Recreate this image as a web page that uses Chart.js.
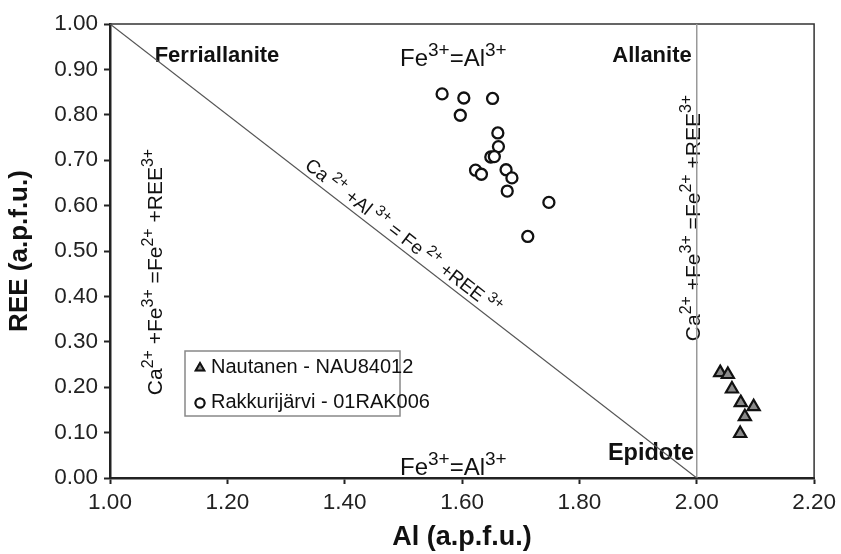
<!DOCTYPE html>
<html>
<head>
<meta charset="utf-8">
<title>Allanite - epidote classification</title>
<script src="https://cdn.jsdelivr.net/npm/chart.js@4.4.0/dist/chart.umd.min.js"></script>
<style>
  html, body { margin: 0; padding: 0; background: #fff; }
  #wrap { width: 841px; height: 554px; }
</style>
</head>
<body>
<div id="wrap"><canvas id="chart"></canvas></div>
<script>
// data (Al and REE in a.p.f.u.)
const nautanenAl  = [2.040, 2.053, 2.060, 2.075, 2.097, 2.082, 2.074];
const nautanenREE = [0.232, 0.228, 0.196, 0.166, 0.157, 0.135, 0.098];

const rakkuAl  = [1.566, 1.603, 1.652, 1.597, 1.661, 1.662, 1.649, 1.655, 1.623, 1.633, 1.675, 1.685, 1.677, 1.748, 1.712];
const rakkuREE = [0.846, 0.837, 0.836, 0.799, 0.760, 0.730, 0.707, 0.708, 0.678, 0.669, 0.679, 0.661, 0.632, 0.607, 0.532];

const seriesNames = ['Nautanen - NAU84012', 'Rakkurijärvi - 01RAK006'];

// boundary lines of the diagram
const diagonalAl  = [1.0, 2.0];
const diagonalREE = [1.0, 0.0];
const verticalAl  = [2.0, 2.0];
const verticalREE = [0.0, 1.0];

const xTickValues = [1.00, 1.20, 1.40, 1.60, 1.80, 2.00, 2.20];
const yTickValues = [0.00, 0.10, 0.20, 0.30, 0.40, 0.50, 0.60, 0.70, 0.80, 0.90, 1.00];

const FONT = '"Liberation Sans", Arial, sans-serif';

function toPoints(xs, ys) {
    return xs.map((x, i) => ({ x: x, y: ys[i] }));
}

// draws text with superscripts, parts = [[text, isSup], ...]
function drawRich(ctx, parts, x, y, angle, size, supSize, align) {
    ctx.save();
    ctx.translate(x, y);
    ctx.rotate(angle);
    ctx.textBaseline = 'alphabetic';
    ctx.textAlign = 'left';
    let total = 0;
    const widths = parts.map(p => {
        ctx.font = (p[1] ? supSize : size) + 'px ' + FONT;
        const w = ctx.measureText(p[0]).width;
        total += w;
        return w;
    });
    let cx = align === 'center' ? -total / 2 : 0;
    parts.forEach((p, i) => {
        ctx.font = (p[1] ? supSize : size) + 'px ' + FONT;
        ctx.fillText(p[0], cx, p[1] ? -size * 0.42 : 0);
        cx += widths[i];
    });
    ctx.restore();
}

const feAl = [['Fe', false], ['3+', true], ['=Al', false], ['3+', true]];
const vertEq = [['Ca', false], ['2+', true], [' +Fe', false], ['3+', true], [' =Fe', false], ['2+', true], [' +REE', false], ['3+', true]];
const diagEq = [['Ca', false], [' 2+', true], [' +Al', false], [' 3+', true], [' = Fe', false], [' 2+', true], [' +REE', false], [' 3+', true]];

const annotations = {
    id: 'annotations',
    beforeDatasetsDraw(chart) {
        const ctx = chart.ctx;
        const xs = chart.scales.x, ys = chart.scales.y;
        const area = chart.chartArea;

        // top and right frame
        ctx.save();
        ctx.strokeStyle = '#333';
        ctx.lineWidth = 1.5;
        ctx.beginPath();
        ctx.moveTo(area.left, area.top);
        ctx.lineTo(area.right, area.top);
        ctx.lineTo(area.right, area.bottom);
        ctx.stroke();
        ctx.restore();

        ctx.save();
        ctx.fillStyle = '#111';
        ctx.textAlign = 'center';
        ctx.textBaseline = 'middle';
        ctx.font = 'bold 22px ' + FONT;
        ctx.fillText('Ferriallanite', 217, 56);
        ctx.fillText('Allanite', 652, 56);
        ctx.font = 'bold 23.5px ' + FONT;
        ctx.fillText('Epidote', 651, 454);
        ctx.restore();

        ctx.fillStyle = '#111';
        drawRich(ctx, feAl, 400, 66, 0, 24, 19, 'left');
        drawRich(ctx, feAl, 400, 475, 0, 24, 19, 'left');
        drawRich(ctx, vertEq, 162, 272, -Math.PI / 2, 21, 16, 'center');
        drawRich(ctx, vertEq, 700, 218, -Math.PI / 2, 21, 16, 'center');

        // text along the diagonal boundary
        const x0 = xs.getPixelForValue(1), y0 = ys.getPixelForValue(1);
        const x1 = xs.getPixelForValue(2), y1 = ys.getPixelForValue(0);
        const ang = Math.atan2(y1 - y0, x1 - x0);
        const t = 0.325;
        const px = x0 + (x1 - x0) * t + Math.sin(ang) * 5;
        const py = y0 + (y1 - y0) * t - Math.cos(ang) * 5;
        drawRich(ctx, diagEq, px, py, ang, 19, 15, 'left');
    },
    afterDraw(chart) {
        const ctx = chart.ctx;
        const ds = chart.data.datasets;
        // legend box
        const bx = 185, by = 351, bw = 215, bh = 65;
        ctx.save();
        ctx.fillStyle = '#fff';
        ctx.fillRect(bx, by, bw, bh);
        ctx.strokeStyle = '#888';
        ctx.lineWidth = 1.5;
        ctx.strokeRect(bx, by, bw, bh);
        ctx.font = '20px ' + FONT;
        ctx.textBaseline = 'middle';
        ctx.fillStyle = '#111';
        [0, 1].forEach(i => {
            const rowY = by + 16 + i * 35;
            Chart.helpers.drawPoint(ctx, {
                pointStyle: ds[i].pointStyle,
                radius: i === 0 ? 5 : 4.5,
                borderWidth: 2
            }, 200, rowY + 1);
            ctx.fillStyle = ds[i].backgroundColor;
            ctx.strokeStyle = '#111';
            ctx.lineWidth = 2;
            ctx.fill();
            ctx.stroke();
            ctx.fillStyle = '#111';
            ctx.fillText(ds[i].label, 211, rowY);
        });
        ctx.restore();
    }
};

new Chart(document.getElementById('chart'), {
    type: 'scatter',
    data: {
        datasets: [
            {
                label: seriesNames[0],
                data: toPoints(nautanenAl, nautanenREE),
                pointStyle: 'triangle',
                pointRadius: 7,
                pointBackgroundColor: '#8a8a8a',
                backgroundColor: '#8a8a8a',
                pointBorderColor: '#111',
                pointBorderWidth: 2.2
            },
            {
                label: seriesNames[1],
                data: toPoints(rakkuAl, rakkuREE),
                pointStyle: 'circle',
                pointRadius: 5.5,
                pointBackgroundColor: '#fff',
                backgroundColor: '#fff',
                pointBorderColor: '#111',
                pointBorderWidth: 2.3
            },
            {
                type: 'line',
                label: 'diagonal',
                data: toPoints(diagonalAl, diagonalREE),
                borderColor: '#555',
                borderWidth: 1.2,
                pointRadius: 0,
                fill: false
            },
            {
                type: 'line',
                label: 'vertical',
                data: toPoints(verticalAl, verticalREE),
                borderColor: '#999',
                borderWidth: 1.5,
                pointRadius: 0,
                fill: false
            }
        ]
    },
    options: {
        responsive: true,
        maintainAspectRatio: false,
        animation: false,
        layout: { padding: { top: 24, right: 22, left: 0, bottom: 0 } },
        plugins: {
            legend: { display: false },
            tooltip: { enabled: false }
        },
        scales: {
            x: {
                type: 'linear',
                min: 1.0,
                max: 2.2,
                afterBuildTicks: s => { s.ticks = xTickValues.map(v => ({ value: v })); },
                afterFit: s => { s.height = 76; },
                ticks: {
                    font: { family: FONT, size: 22.5 },
                    color: '#222',
                    padding: 5,
                    maxRotation: 0,
                    callback: v => v.toFixed(2)
                },
                grid: { drawOnChartArea: false, tickLength: 6, tickColor: '#222', tickWidth: 2 },
                border: { color: '#222', width: 2.5 },
                title: {
                    display: true,
                    text: 'Al (a.p.f.u.)',
                    font: { family: FONT, size: 27, weight: 'bold' },
                    color: '#111',
                    padding: { top: 0, bottom: 0 }
                }
            },
            y: {
                type: 'linear',
                min: 0,
                max: 1,
                afterBuildTicks: s => { s.ticks = yTickValues.map(v => ({ value: v })); },
                afterFit: s => { s.width = 110; },
                ticks: {
                    font: { family: FONT, size: 22.5 },
                    color: '#222',
                    padding: 6,
                    callback: v => v.toFixed(2)
                },
                grid: { drawOnChartArea: false, tickLength: 6, tickColor: '#222', tickWidth: 2 },
                border: { color: '#222', width: 2.5 },
                title: {
                    display: true,
                    text: 'REE (a.p.f.u.)',
                    font: { family: FONT, size: 26, weight: 'bold' },
                    color: '#111',
                    padding: { top: 4, bottom: 0 }
                }
            }
        }
    },
    plugins: [annotations]
});
</script>
</body>
</html>
